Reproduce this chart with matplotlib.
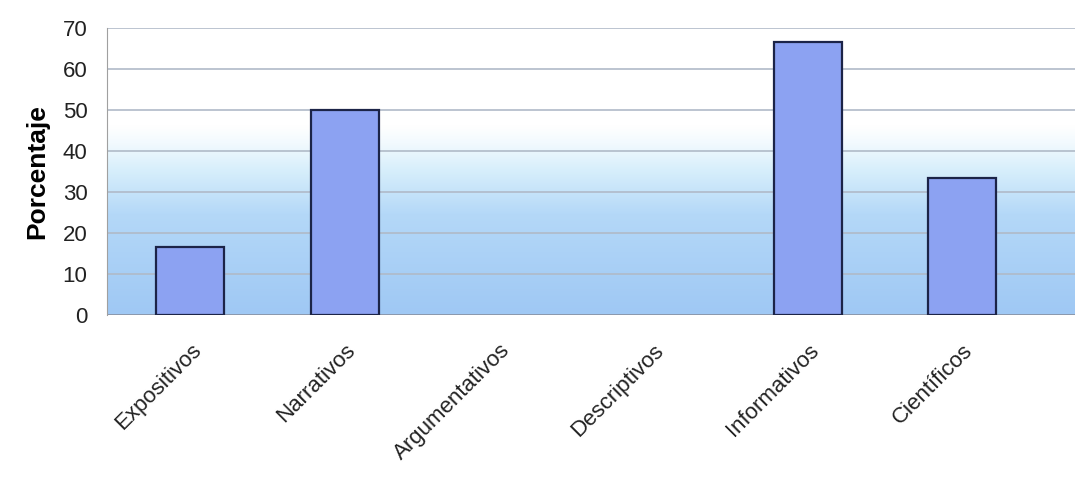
import numpy as np
from matplotlib import pyplot as plt
from matplotlib.colors import LinearSegmentedColormap

categorias = ['Expositivos', 'Narrativos', 'Argumentativos', 'Descriptivos',
              'Informativos', 'Científicos']
porcentaje = [16.67, 50.0, 0.0, 0.0, 66.67, 33.33]

plt.rcParams['font.family'] = ['Liberation Sans', 'DejaVu Sans']

fig = plt.figure(figsize=(10.75, 4.94), dpi=100)
ax = fig.add_axes([107/1075, 1 - 315/494, 1 - 107/1075, (315 - 28)/494])

x = np.arange(len(categorias))
ax.set_xlim(-0.54, 5.73)
ax.set_ylim(0, 70)

# fondo degradado: blanco arriba, azul claro abajo
cmap = LinearSegmentedColormap.from_list(
    'fondo', [(0.0, '#9fc8f4'), (0.35, '#b4d8f8'), (0.5, '#d6eefb'),
              (0.6, '#f2fafe'), (0.66, '#ffffff'), (1.0, '#ffffff')])
grad = np.linspace(0, 1, 256).reshape(-1, 1)
ax.imshow(grad, cmap=cmap, origin='lower', aspect='auto',
          extent=[-0.54, 5.73, 0, 70], zorder=0)

for yv in range(10, 80, 10):
    ax.axhline(yv, color='#b0bac8', lw=1.2, zorder=1)
ax.axhline(0, color='#8890a0', lw=1.2, zorder=1)

# barras con valor 0 sin borde
anchos_borde = [1.6 if v > 0 else 0 for v in porcentaje]
ax.bar(x, porcentaje, width=0.44, color='#8ca2f2', edgecolor='#1c2448',
       linewidth=anchos_borde, zorder=2)

ax.set_yticks(range(0, 80, 10))
ax.tick_params(axis='y', labelsize=16, length=0, pad=14, colors='#222222')
ax.set_xticks(x)
ax.set_xticklabels(categorias, rotation=45, ha='right', rotation_mode='anchor',
                   fontsize=16)
ax.tick_params(axis='x', length=0, pad=18, colors='#222222')
ax.set_ylabel('Porcentaje', fontsize=19, fontweight='bold', labelpad=10)

for s in ['top', 'right', 'bottom']:
    ax.spines[s].set_visible(False)
ax.spines['left'].set_color('#a0a0a0')

fig.savefig('out.png', dpi=100)
